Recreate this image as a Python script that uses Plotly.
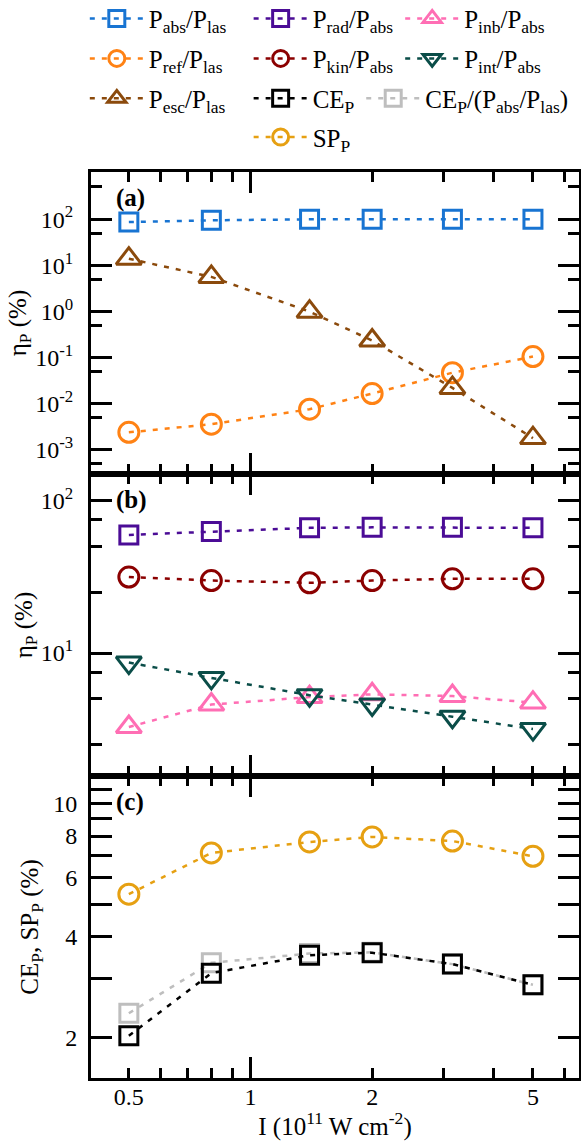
import math
import plotly.graph_objects as go
from plotly.subplots import make_subplots

FONT = "Liberation Serif, Times New Roman, serif"

# ---------------- data ----------------
intensity = [0.5, 0.8, 1.4, 2.0, 3.16, 5.0]

p_abs_las = [86.5, 94.5, 99.0, 99.7, 99.9, 99.9]
p_ref_las = [0.0024, 0.0036, 0.0076, 0.0166, 0.047, 0.105]
p_esc_las = [13.9, 5.6, 0.99, 0.234, 0.022, 0.0018]

p_rad_abs = [59.6, 62.7, 66.3, 66.8, 66.8, 66.3]
p_kin_abs = [31.5, 29.9, 28.9, 29.9, 30.7, 30.7]
p_inb_abs = [3.27, 4.59, 5.14, 5.36, 5.22, 4.73]
p_int_abs = [8.66, 6.87, 5.29, 4.60, 3.82, 3.17]

ce_p = [2.02, 3.11, 3.52, 3.58, 3.31, 2.87]
ce_p_norm = [2.36, 3.34, 3.56, 3.59, 3.31, 2.87]
sp_p = [5.36, 7.12, 7.68, 7.95, 7.73, 6.96]

# ticks
x_ticks = [0.5, 1, 2, 5]
x_ticktext = ["0.5", "1", "2", "5"]
x_minor = [0.6, 0.7, 0.8, 0.9, 3, 4, 6]
x_decade = [1]
x_range = [0.403, 6.5]

ya_ticks = [1e-3, 1e-2, 1e-1, 1, 10, 100]
ya_ticktext = ["10<sup>-3</sup>", "10<sup>-2</sup>", "10<sup>-1</sup>",
               "10<sup>0</sup>", "10<sup>1</sup>", "10<sup>2</sup>"]
ya_minor = [5e-4, 5e-3, 5e-2, 0.5, 5, 50, 500]
ya_range = [3.0e-4, 1050]

yb_ticks = [10, 100]
yb_ticktext = ["10<sup>1</sup>", "10<sup>2</sup>"]
yb_minor = [2.5, 5, 7.5, 25, 50, 75]
yb_range = [1.56, 149.6]

yc_ticks = [2, 4, 6, 8, 10]
yc_ticktext = ["2", "4", "6", "8", "10"]
yc_minor = [3, 5, 7, 9, 11]
yc_range = [1.51, 12.1]

# ---------------- figure ----------------
W, H = 581, 1141
ML, MR, MT, MB = 90.5, 2, 171.7, 63
PW, PH = W - ML - MR, H - MT - MB

fig = make_subplots(rows=3, cols=1, vertical_spacing=0)

series = [
    # name, y, row, color, symbol, legend, (line start px, row center px)
    ("P<sub>abs</sub>/P<sub>las</sub>", p_abs_las, 1, "#1874D2", "square-open", "legend", (89.3, 18.3)),
    ("P<sub>ref</sub>/P<sub>las</sub>", p_ref_las, 1, "#FF8214", "circle-open", "legend2", (89.3, 58.3)),
    ("P<sub>esc</sub>/P<sub>las</sub>", p_esc_las, 1, "#8B4A0C", "triangle-up-open", "legend3", (89.3, 98.3)),
    ("P<sub>rad</sub>/P<sub>abs</sub>", p_rad_abs, 2, "#4B0C96", "square-open", "legend4", (253.3, 18.3)),
    ("P<sub>kin</sub>/P<sub>abs</sub>", p_kin_abs, 2, "#8B0000", "circle-open", "legend5", (253.3, 58.3)),
    ("P<sub>inb</sub>/P<sub>abs</sub>", p_inb_abs, 2, "#FF6EB4", "triangle-up-open", "legend6", (405, 18.3)),
    ("P<sub>int</sub>/P<sub>abs</sub>", p_int_abs, 2, "#0A4D48", "triangle-down-open", "legend7", (405, 58.3)),
    ("CE<sub>P</sub>/(P<sub>abs</sub>/P<sub>las</sub>)", ce_p_norm, 3, "#BEBEBE", "square-open", "legend8", (366, 98.3)),
    ("CE<sub>P</sub>", ce_p, 3, "#000000", "square-open", "legend9", (253.3, 98.3)),
    ("SP<sub>P</sub>", sp_p, 3, "#E6A012", "circle-open", "legend10", (253.3, 137.0)),
]

sizes = {"square-open": 18, "circle-open": 20, "triangle-up-open": 22, "triangle-down-open": 22}

legend_layout = {}
for name, yv, row, color, symbol, leg, (lx, ly) in series:
    fig.add_trace(go.Scatter(
        x=intensity, y=yv, name=name, mode="lines+markers",
        line=dict(color=color, width=2.5, dash="5px,7px"),
        marker=dict(symbol=symbol, size=sizes[symbol], color=color,
                    line=dict(color=color, width=3)),
        legend=leg, showlegend=True,
    ), row=row, col=1)
    legend_layout[leg] = dict(
        x=(lx - 5 - ML) / PW, y=(H - MB - ly) / PH,
        xanchor="left", yanchor="middle",
        bgcolor="rgba(0,0,0,0)", borderwidth=0,
        itemwidth=54, orientation="v",
        font=dict(family=FONT, size=25, color="black"),
    )

axis_common = dict(
    type="log", showline=True, linewidth=3, linecolor="black",
    mirror="allticks", ticks="inside", tickwidth=3, tickcolor="black",
    showgrid=False, zeroline=False,
    tickfont=dict(family=FONT, size=24, color="black"),
)

for r in (1, 2, 3):
    fig.update_xaxes(
        **axis_common,
        range=[math.log10(v) for v in x_range],
        tickmode="array", tickvals=x_ticks, ticktext=x_ticktext, ticklen=10,
        ticklabelstandoff=-5,
        minor=dict(tickmode="array", tickvals=x_minor, ticklen=10, tickwidth=3,
                   tickcolor="black", ticks="inside", showgrid=False),
        showticklabels=(r == 3),
        row=r, col=1,
    )

fig.update_xaxes(
    title=dict(text="I (10<sup>11</sup> W cm<sup>-2</sup>)",
               font=dict(family=FONT, size=25, color="black"), standoff=4),
    row=3, col=1,
)

yspecs = [
    (1, ya_range, ya_ticks, ya_ticktext, ya_minor, 11, "η<sub>P</sub> (%)", 2, 10),
    (2, yb_range, yb_ticks, yb_ticktext, yb_minor, 11, "η<sub>P</sub> (%)", 2, 10),
    (3, yc_range, yc_ticks, yc_ticktext, yc_minor, 21, "CE<sub>P</sub>, SP<sub>P</sub> (%)", 8, 6),
]
for r, rng, tv, tt, mv, mlen, title, so, lso in yspecs:
    fig.update_yaxes(
        **axis_common,
        range=[math.log10(v) for v in rng],
        tickmode="array", tickvals=tv, ticktext=tt, ticklen=21,
        ticklabelstandoff=lso,
        minor=dict(tickmode="array", tickvals=mv, ticklen=mlen, tickwidth=3,
                   tickcolor="black", ticks="inside", showgrid=False),
        title=dict(text=title, font=dict(family=FONT, size=25, color="black"), standoff=so),
        row=r, col=1,
    )

# long decade ticks on the x axes (bottom and top of each panel)
frac = 21 / (PH / 3)
for r, (xr, yr) in enumerate([("x", "y"), ("x2", "y2"), ("x3", "y3")]):
    for xv in x_decade:
        for y0, y1 in ((0, frac), (1 - frac, 1)):
            fig.add_shape(type="line", xref=xr, yref=f"{yr} domain",
                          x0=xv, x1=xv, y0=y0, y1=y1,
                          line=dict(color="black", width=3))

# panel labels
for lab, (xr, yr) in zip(["(a)", "(b)", "(c)"], [("x", "y"), ("x2", "y2"), ("x3", "y3")]):
    fig.add_annotation(text=f"<b>{lab}</b>", xref=f"{xr} domain", yref=f"{yr} domain",
                       x=(113.3 - ML) / PW, y=1 - 26.5 / (PH / 3),
                       xanchor="left", yanchor="middle", showarrow=False,
                       font=dict(family=FONT, size=25, color="black"))

fig.update_layout(
    width=W, height=H,
    margin=dict(l=ML, r=MR, t=MT, b=MB, autoexpand=False),
    plot_bgcolor="white", paper_bgcolor="white",
    font=dict(family=FONT, size=24, color="black"),
    **legend_layout,
)

fig.write_html("out.html", config={"displayModeBar": False},
               post_script="document.body.style.margin='0px';")
